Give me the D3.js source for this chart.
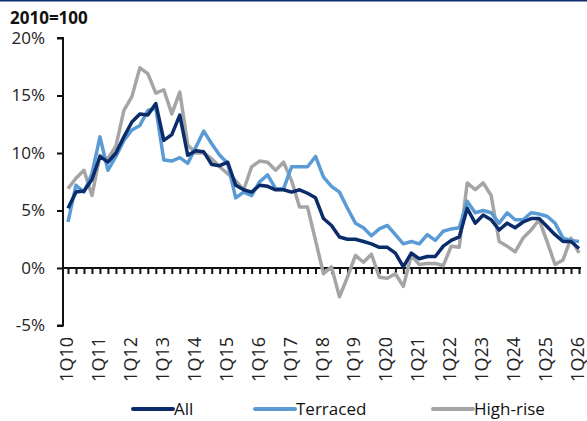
<!DOCTYPE html>
<html lang="en">
<head>
    <meta charset="UTF-8">
    <title>House prices by type, 2010=100</title>
    <script src="https://d3js.org/d3.v7.min.js"></script>
    <style>
        body {
            margin: 0;
            font-family: "Open Sans", Arial, sans-serif;
            background: #fff;
        }
        .axis text {
            font-family: "Open Sans", Arial, sans-serif;
            fill: #222;
        }
    </style>
</head>
<body>
    <div id="chart"></div>
    <script>
        // quarterly readings, 1Q10 .. 1Q26 (65 quarters)
        const tickLabels = ["1Q10", "1Q11", "1Q12", "1Q13", "1Q14", "1Q15", "1Q16", "1Q17", "1Q18",
            "1Q19", "1Q20", "1Q21", "1Q22", "1Q23", "1Q24", "1Q25", "1Q26"];

        const allValues = [5.2, 6.6, 6.7, 7.7, 9.7, 9.2, 10.0, 11.4, 12.7, 13.4, 13.3, 14.3, 11.1, 11.6, 13.3, 9.8,
            10.2, 10.1, 9.0, 8.9, 9.2, 7.2, 6.8, 6.6, 7.2, 7.1, 6.8, 6.8, 6.6, 6.8, 6.5, 6.1,
            4.3, 3.7, 2.7, 2.5, 2.5, 2.3, 2.1, 1.8, 1.8, 1.3, 0.1, 1.3, 0.8, 1.0, 1.0, 1.9,
            2.4, 2.7, 5.2, 3.9, 4.6, 4.2, 3.3, 3.9, 3.5, 4.0, 4.3, 4.3, 3.6, 2.9, 2.3, 2.3, 1.7];

        const terracedValues = [4.0, 7.2, 6.6, 8.2, 11.4, 8.5, 9.7, 11.1, 12.0, 12.4, 13.7, 13.9, 9.4, 9.3, 9.6, 9.1,
            10.5, 11.9, 10.8, 9.8, 9.1, 6.1, 6.6, 6.3, 7.5, 8.1, 6.9, 6.9, 8.8, 8.8, 8.8, 9.7,
            7.9, 7.1, 6.6, 5.2, 3.9, 3.5, 2.8, 3.4, 3.7, 2.9, 2.1, 2.3, 2.1, 2.9, 2.4, 3.2,
            3.4, 3.5, 5.8, 4.8, 5.0, 4.8, 3.9, 4.8, 4.2, 4.2, 4.8, 4.7, 4.5, 3.9, 2.6, 2.4, 2.3];

        const highRiseValues = [6.9, 7.8, 8.5, 6.3, 9.8, 9.5, 10.6, 13.7, 14.9, 17.4, 16.9, 15.2, 15.5, 13.4, 15.3, 10.7,
            10.0, 10.0, 9.5, 8.8, 8.2, 7.6, 6.8, 8.8, 9.3, 9.2, 8.5, 9.2, 7.6, 5.3, 5.3, 2.4,
            -0.5, 0.1, -2.5, -0.8, 1.1, 0.5, 1.2, -0.8, -0.9, -0.5, -1.6, 1.1, 0.3, 0.4, 0.4, 0.2,
            1.9, 1.8, 7.4, 6.8, 7.4, 6.3, 2.3, 1.9, 1.4, 2.6, 3.3, 4.2, 2.3, 0.3, 0.7, 2.6, 1.3];

        const yTicks = [-5, 0, 5, 10, 15, 20];

        const seriesNames = ["All", "Terraced", "High-rise"];
        const seriesColors = ["#0B2C6B", "#5B9BD5", "#A5A5A5"];

        const width = 587;
        const height = 421;
        const margin = { top: 38, right: 8, bottom: 95, left: 63 };

        const svg = d3.select('#chart')
            .append('svg')
            .attr('width', width)
            .attr('height', height);

        // thin rule along the top edge
        svg.append('rect')
            .attr('x', 0).attr('y', 0)
            .attr('width', width).attr('height', 1.5)
            .attr('fill', '#0B2C6B');

        svg.append('text')
            .attr('x', 10)
            .attr('y', 24)
            .style('font-family', '"Open Sans", Arial, sans-serif')
            .style('font-weight', 'bold')
            .style('font-size', '17px')
            .attr('fill', '#111')
            .text('2010=100');

        const n = allValues.length;
        const x = d3.scaleLinear().domain([0, n - 1]).range([margin.left + 5, width - margin.right]);
        const y = d3.scaleLinear().domain([-5, 20]).range([325.5, margin.top]);

        // y axis
        const yAxis = svg.append('g')
            .attr('class', 'axis')
            .attr('transform', `translate(${margin.left},0)`)
            .call(d3.axisLeft(y).tickValues(yTicks).tickSize(6).tickPadding(12).tickFormat(d => d + '%'));
        yAxis.selectAll('path, line').attr('stroke', '#111').attr('stroke-width', 2);
        yAxis.select('.domain').attr('d', `M-6,${y(-5)}H0V${y(20)}H-6`);
        yAxis.selectAll('text').style('font-size', '17px');

        // zero line with quarterly ticks
        const zeroAxis = svg.append('g')
            .attr('class', 'axis')
            .attr('transform', `translate(0,${y(0)})`)
            .call(d3.axisBottom(x).tickValues(d3.range(n)).tickSize(6).tickFormat(''));
        zeroAxis.selectAll('line').attr('stroke', '#111').attr('stroke-width', 2);
        zeroAxis.select('.domain').attr('d', `M${margin.left},0H${x(n - 1) + 2}`)
            .attr('stroke', '#111').attr('stroke-width', 2);

        // rotated year labels
        svg.selectAll('.xlabel')
            .data(tickLabels)
            .enter().append('text')
            .attr('class', 'xlabel')
            .attr('transform', (d, i) => `translate(${x(i * 4) + 5},337) rotate(-90)`)
            .attr('text-anchor', 'end')
            .style('font-size', '18px')
            .attr('fill', '#222')
            .text(d => d);

        const line = d3.line()
            .x((d, i) => x(i))
            .y(d => y(d));

        // draw in back-to-front order: high-rise, terraced, all
        [highRiseValues, terracedValues, allValues].forEach((vals, k) => {
            const idx = 2 - k;
            svg.append('path')
                .datum(vals)
                .attr('fill', 'none')
                .attr('stroke', seriesColors[idx])
                .attr('stroke-width', 3.5)
                .attr('stroke-linejoin', 'round')
                .attr('d', line);
        });

        // legend
        const legendX = [133, 255, 433];
        const legend = svg.selectAll('.legend-item')
            .data(seriesNames)
            .enter().append('g')
            .attr('class', 'legend-item')
            .attr('transform', (d, i) => `translate(${legendX[i]},409)`);
        legend.append('line')
            .attr('x1', 0).attr('x2', 40)
            .attr('y1', 0).attr('y2', 0)
            .attr('stroke', (d, i) => seriesColors[i])
            .attr('stroke-width', 4)
            .attr('stroke-linecap', 'round');
        legend.append('text')
            .attr('x', 41)
            .attr('y', 6)
            .style('font-size', '17px')
            .attr('fill', '#111')
            .text(d => d);
    </script>
</body>
</html>
